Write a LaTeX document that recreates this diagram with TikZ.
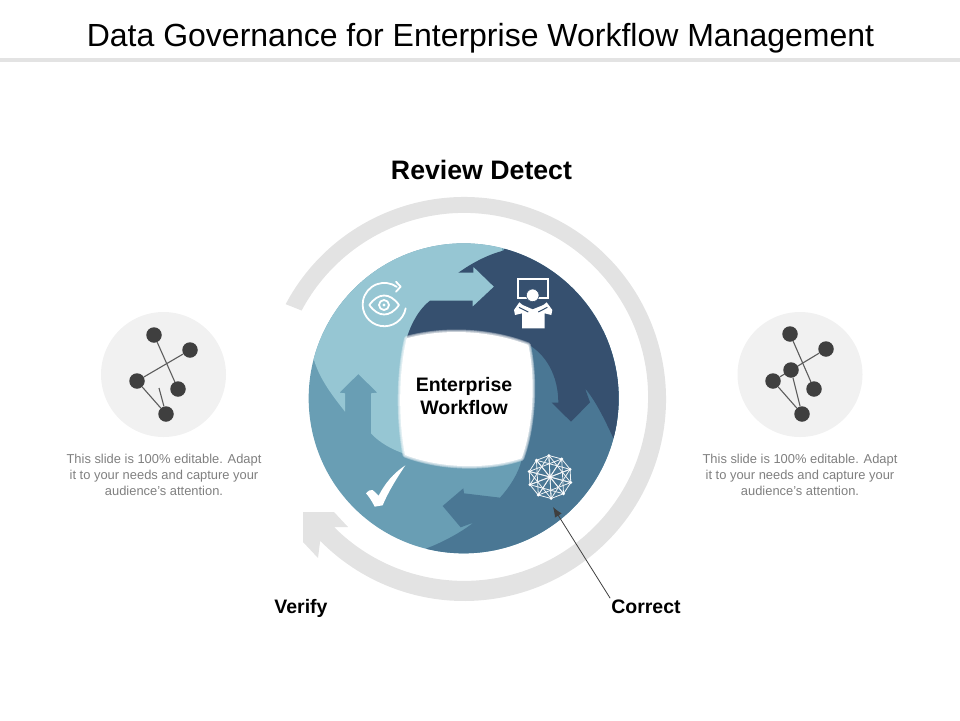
\documentclass[tikz,border=0pt]{standalone}
\usepackage{fontspec}
\setmainfont{Liberation Sans}
\usepackage{xcolor}
\usetikzlibrary{arrows.meta}

\definecolor{lightseg}{HTML}{96C6D3}
\definecolor{darkseg}{HTML}{36506F}
\definecolor{midseg}{HTML}{4A7794}
\definecolor{tealseg}{HTML}{699EB4}
\definecolor{ringgray}{HTML}{E3E3E3}
\definecolor{bubblegray}{HTML}{F1F1F1}
\definecolor{dotgray}{HTML}{3F3F3F}
\definecolor{captiongray}{HTML}{7F7F7F}

\tikzset{
  dot/.style={circle,fill=dotgray,minimum size=15.5pt,inner sep=0pt},
  link/.style={draw=dotgray!85!white,line width=1.1pt},
  bubble/.style={circle,fill=bubblegray,minimum size=125pt,inner sep=0pt},
  caption/.style={text=captiongray,font=\fontsize{12.9}{16}\selectfont,align=center},
  label/.style={font=\bfseries\fontsize{19.5}{23}\selectfont,inner sep=1pt},
  iconline/.style={draw=white,line width=1.8pt,line cap=round,line join=round}
}

\begin{document}
\begin{tikzpicture}[x=1pt,y=-1pt]
\useasboundingbox (0,0) rectangle (960,720);

% Title and rule
\node[font=\fontsize{32}{36}\selectfont] (title) at (480.5,38.5) {Data Governance for Enterprise Workflow Management};
\fill[fill=ringgray] (0,58) rectangle (960,62);
\node[font=\bfseries\fontsize{26.7}{30}\selectfont] (review) at (481.5,170) {Review Detect};

% Big ring with arrow head: Gray
\begin{scope}[shift={(464,399)}]
\fill[fill=ringgray] (208:202) arc[start angle=208,end angle=495.4,radius=202]
  -- (-146,159) -- (-161,143) -- (-161,113) -- (-130,113) -- (-116,128) -- (-130,128)
  arc[start angle=495,end angle=208,radius=184] -- cycle;
\end{scope}

% Disc and its four arrows, traced in 3x pixels
\begin{scope}[shift={(290,230)},scale=1/3]
\begin{scope}
\clip (521,505) circle (465);
\fill[fill=tealseg] (0,0) rectangle (1100,1100);
% Light arrow
\fill[fill=lightseg] (72,390) .. controls (90,450) and (130,500) .. (165,545)
  -- (165,490) -- (148,488) -- (205,432) -- (262,488) -- (243,490) -- (243,610)
  .. controls (270,640) and (310,660) .. (345,672)
  -- (400,400) -- (612,170) -- (640,40) -- (-20,-20) -- (-20,350) -- cycle;
% Mid arrow
\fill[fill=midseg] (410,955) .. controls (450,940) and (510,910) .. (550,878)
  -- (512,892) -- (458,828) -- (520,775) -- (522,790) -- (630,803)
  .. controls (660,770) and (685,730) .. (695,690)
  -- (600,500) -- (700,300) -- (1100,300) -- (1100,1100) -- (380,1100) -- cycle;
% Dark arrow
\fill[fill=darkseg] (968,620) .. controls (940,560) and (915,510) .. (885,475)
  -- (900,517) -- (843,575) -- (785,518) -- (805,518)
  .. controls (805,440) and (770,370) .. (705,338)
  -- (350,325) .. controls (365,275) and (390,235) .. (420,212)
  -- (548,212) -- (548,230) -- (612,170) -- (550,110) -- (550,128) -- (505,128)
  .. controls (545,100) and (590,75) .. (640,62)
  -- (660,30) -- (1100,30) -- (1100,700) -- (985,650) -- cycle;
\end{scope}

% Hole in the middle with soft edge
\foreach \w in {5,3.5,2}
{
\draw[white,opacity=.35,line width=\w*1pt,line join=round] (350,325) .. controls (460,295) and (600,300) .. (715,345)
  .. controls (738,450) and (730,590) .. (695,685)
  .. controls (590,720) and (450,715) .. (345,675)
  .. controls (325,570) and (325,430) .. (350,325) -- cycle;
}
\fill[fill=white] (350,325) .. controls (460,295) and (600,300) .. (715,345)
  .. controls (738,450) and (730,590) .. (695,685)
  .. controls (590,720) and (450,715) .. (345,675)
  .. controls (325,570) and (325,430) .. (350,325) -- cycle;

% Eye icon
\draw[iconline] (347,235) arc[start angle=10,end angle=305,radius=65];
\draw[iconline] (318,155) -- (332,170) -- (318,185);
\draw[iconline] (238,225) .. controls (265,187) and (300,187) .. (327,225)
  .. controls (300,263) and (265,263) .. (238,225) -- cycle;
\draw[iconline] (282,225) circle (15);
\fill[fill=white] (282,225) circle (5);

% Check mark icon
\fill[fill=white] (228,790) .. controls (235,782) and (242,778) .. (248,780)
  -- (266,797) .. controls (285,760) and (310,730) .. (346,706)
  .. controls (320,745) and (295,785) .. (278,826) -- (254,830)
  .. controls (245,812) and (237,800) .. (228,790) -- cycle;
\end{scope}

% Person icon
\begin{scope}[shift={(510,270)},scale=1/3]
\draw[draw=white,line width=1.7pt] (25,28) rectangle (115,85);
\fill[fill=white] (36,175) -- (36,130) -- (15,135) -- (12,120) -- (28,97) -- (38,105) -- (68,118)
  -- (100,105) -- (110,97) -- (127,120) -- (124,135) -- (104,130) -- (104,175) -- cycle;
\draw[draw=darkseg,line width=1pt] (27,112) -- (55,126) (112,112) -- (85,126);
\draw[draw=darkseg,fill=white,line width=.6pt] (68,76) circle (19);
\end{scope}

% Network icon
\begin{scope}[shift={(550,477)}]
\foreach \i in {0,...,9} \foreach \s in {1,3,5}
{
\draw[draw=white!92!midseg,line width=.8pt] ({36*\i+15}:21.5) -- ({36*(\i+\s)+15}:21.5);
}
\foreach \i in {0,...,9}
{
\fill[fill=white] ({36*\i+15}:21.5) circle (1.6);
}
\fill[fill=white] (0,0) circle (1.6);
\end{scope}

% Left bubble
\node[bubble] (leftbubble) at (163.5,374.5) {};
\node[dot] (la) at (154,335) {};
\node[dot] (lb) at (190,350) {};
\node[dot] (lc) at (137,381) {};
\node[dot] (ld) at (178,389) {};
\node[dot] (le) at (166,414) {};
\coordinate (lf) at (159,388);
\draw[link] (la) -- (ld);
\draw[link] (lb) -- (lc);
\draw[link] (lc) -- (le);
\draw[link] (le) -- (lf);

% Right bubble
\node[bubble] (rightbubble) at (800,374.5) {};
\node[dot] (ra) at (790,334) {};
\node[dot] (rb) at (826,349) {};
\node[dot] (rc) at (773,381) {};
\node[dot] (rd) at (814,389) {};
\node[dot] (re) at (802,414) {};
\draw[link] (ra) -- (rd);
\draw[link] (rb) -- (rc);
\draw[link] (rc) -- (re);
\node[dot] (rf) at (791,370) {};
\draw[link] (rf) -- (re);

% Captions
\node[caption] (leftcaption) at (164,475) {This slide is 100\% editable. Adapt\\it to your needs and capture your\\audience's attention.};
\node[caption] (rightcaption) at (800,475) {This slide is 100\% editable. Adapt\\it to your needs and capture your\\audience's attention.};

% Labels
\node[label,align=center] (centre) at (464,396) {Enterprise\\Workflow};
\node[label,anchor=base] (verify) at (301,613) {Verify};
\node[label,anchor=base] (correct) at (646,613) {Correct};
\coordinate (correcttip) at (553,507);
\draw[draw=dotgray,line width=.8pt,-{Latex[length=10pt,width=8pt]}] (correct.north west) -- (correcttip);

\end{tikzpicture}
\end{document}
